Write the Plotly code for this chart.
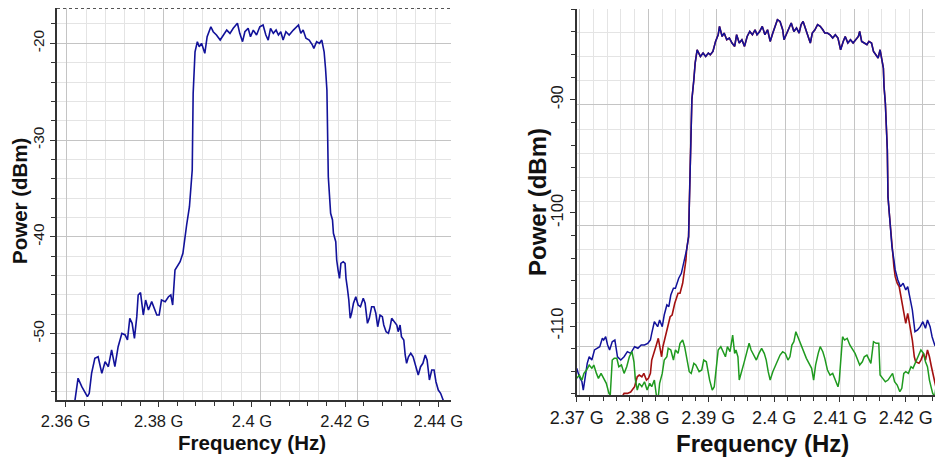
import plotly.graph_objects as go

# ---------------- data (frequency in GHz, power in dBm) ----------------
left_freq_ghz = [2.3620, 2.3627, 2.3635, 2.3642, 2.3647, 2.3651, 2.3656, 2.3663, 2.3670, 2.3678,
                 2.3685, 2.3692, 2.3699, 2.3706, 2.3713, 2.3721, 2.3728, 2.3733, 2.3738, 2.3743,
                 2.3748, 2.3753, 2.3756, 2.3761, 2.3767, 2.3772, 2.3778, 2.3785, 2.3792, 2.3796,
                 2.3801, 2.3806, 2.3814, 2.3821, 2.3826, 2.3830, 2.3835, 2.3846, 2.3852, 2.3856,
                 2.3860, 2.3866, 2.3869, 2.3872, 2.3874, 2.3876, 2.3878, 2.3883, 2.3887, 2.3892,
                 2.3899, 2.3904, 2.3912, 2.3917, 2.3924, 2.3932, 2.3939, 2.3946, 2.3953, 2.3960,
                 2.3969, 2.3974, 2.3980, 2.3985, 2.3992, 2.3997, 2.4003, 2.4010, 2.4017, 2.4024,
                 2.4030, 2.4035, 2.4040, 2.4046, 2.4052, 2.4057, 2.4062, 2.4067, 2.4073, 2.4080,
                 2.4089, 2.4096, 2.4100, 2.4105, 2.4110, 2.4116, 2.4123, 2.4130, 2.4133, 2.4139,
                 2.4145, 2.4150, 2.4155, 2.4158, 2.4161, 2.4164, 2.4168, 2.4169, 2.4173, 2.4175,
                 2.4180, 2.4182, 2.4185, 2.4188, 2.4191, 2.4196, 2.4200, 2.4202, 2.4205, 2.4208,
                 2.4211, 2.4214, 2.4218, 2.4223, 2.4228, 2.4233, 2.4239, 2.4243, 2.4248, 2.4252,
                 2.4257, 2.4262, 2.4266, 2.4270, 2.4275, 2.4280, 2.4283, 2.4288, 2.4293, 2.4296,
                 2.4300, 2.4305, 2.4311, 2.4314, 2.4318, 2.4321, 2.4326, 2.4329, 2.4332, 2.4336,
                 2.4341, 2.4346, 2.4352, 2.4357, 2.4362, 2.4367, 2.4372, 2.4376, 2.4381, 2.4386,
                 2.4391, 2.4395, 2.4400, 2.4405, 2.4409, 2.4412]
left_power_dbm = [-57.0, -54.6, -55.47, -55.99, -56.5, -56.16, -54.1, -52.54, -52.38, -54.1,
                  -52.89, -53.41, -51.68, -53.41, -51.34, -49.96, -50.13, -50.65, -48.41, -48.93,
                  -50.48, -48.24, -46.0, -45.76, -48.07, -46.52, -47.55, -46.69, -47.55, -48.07,
                  -48.07, -46.52, -46.69, -46.18, -46.0, -47.04, -43.42, -42.56, -41.69, -39.98,
                  -38.77, -36.88, -34.81, -33.09, -25.17, -21.9, -20.87, -19.83, -20.35, -20.0,
                  -21.03, -19.32, -18.29, -18.8, -19.14, -19.66, -19.14, -18.63, -18.97, -18.45,
                  -17.93, -18.97, -19.83, -18.8, -18.45, -19.32, -18.63, -19.14, -18.29, -18.11,
                  -19.14, -19.66, -18.45, -18.97, -18.63, -19.14, -18.8, -19.66, -18.8, -19.14,
                  -18.63, -18.29, -18.11, -18.97, -18.63, -19.48, -19.66, -20.18, -20.52, -19.83,
                  -20.0, -19.66, -20.87, -22.58, -24.82, -33.78, -36.19, -37.56, -38.25, -39.63,
                  -40.5, -42.39, -43.42, -44.28, -42.73, -42.56, -42.73, -44.28, -45.31, -46.52,
                  -48.41, -47.89, -46.86, -46.18, -47.04, -47.21, -46.34, -46.86, -48.93, -48.41,
                  -47.21, -47.21, -47.89, -49.28, -48.07, -48.24, -49.1, -49.79, -49.96, -49.44,
                  -48.41, -48.76, -49.1, -49.79, -49.1, -50.31, -50.65, -52.2, -53.06, -52.38,
                  -52.02, -52.38, -53.41, -54.27, -53.41, -53.06, -52.2, -52.72, -54.78, -53.75,
                  -53.75, -54.96, -55.82, -56.16, -56.67, -57.05]

# right chart: blue/red share the in-band segment
blue_left_freq = [2.3700, 2.3704, 2.3708, 2.3710, 2.3713, 2.3716, 2.3719, 2.3723, 2.3727, 2.3731,
                  2.3735, 2.3739, 2.3741, 2.3744, 2.3747, 2.3750, 2.3754, 2.3758, 2.3762, 2.3767,
                  2.3772, 2.3777, 2.3782, 2.3788, 2.3793, 2.3798, 2.3803, 2.3808, 2.3812, 2.3814,
                  2.3818, 2.3823, 2.3826, 2.3830, 2.3833, 2.3837, 2.3840, 2.3843, 2.3847, 2.3850,
                  2.3855, 2.3859, 2.3862, 2.3865]
blue_left_power = [-113.74, -114.49, -114.93, -115.66, -114.49, -113.3, -112.72, -113.01, -112.12, -111.97,
                   -111.83, -111.09, -111.24, -110.95, -111.68, -112.12, -111.39, -111.24, -112.72, -113.01,
                   -112.72, -112.27, -112.42, -111.83, -111.97, -111.68, -111.68, -111.53, -111.24, -110.65,
                   -109.62, -110.06, -109.47, -110.06, -109.03, -108.14, -108.29, -107.26, -106.66, -106.66,
                   -105.78, -105.34, -104.6, -103.72]

band_freq = [2.3867, 2.3870, 2.3871, 2.3873, 2.3875, 2.3878, 2.3880, 2.3883, 2.3886, 2.3888,
             2.3892, 2.3896, 2.3900, 2.3903, 2.3907, 2.3911, 2.3915, 2.3917, 2.3921, 2.3924,
             2.3928, 2.3932, 2.3936, 2.3940, 2.3943, 2.3947, 2.3951, 2.3955, 2.3959, 2.3963,
             2.3967, 2.3971, 2.3974, 2.3978, 2.3982, 2.3986, 2.3990, 2.3994, 2.3998, 2.4002,
             2.4005, 2.4009, 2.4013, 2.4015, 2.4019, 2.4022, 2.4026, 2.4030, 2.4034, 2.4038,
             2.4041, 2.4044, 2.4048, 2.4051, 2.4055, 2.4058, 2.4062, 2.4066, 2.4070, 2.4074,
             2.4077, 2.4081, 2.4085, 2.4089, 2.4093, 2.4097, 2.4101, 2.4105, 2.4108, 2.4112,
             2.4116, 2.4120, 2.4124, 2.4128, 2.4130, 2.4133, 2.4137, 2.4141, 2.4144, 2.4148,
             2.4151, 2.4155, 2.4158, 2.4161, 2.4164, 2.4166, 2.4167, 2.4169, 2.4172, 2.4173,
             2.4175, 2.4177, 2.4179]
band_power = [-103.27, -102.1, -99.44, -95.16, -90.0, -88.23, -86.75, -85.58, -85.87, -86.17,
              -85.87, -86.17, -85.87, -86.02, -85.73, -84.84, -84.25, -83.51, -84.4, -84.1,
              -84.69, -84.54, -84.98, -85.28, -84.25, -84.98, -84.69, -85.28, -84.4, -83.96,
              -84.25, -83.81, -84.25, -83.96, -83.51, -84.25, -83.81, -84.84, -84.1, -83.51,
              -82.92, -83.07, -83.81, -84.69, -84.1, -83.81, -83.21, -83.96, -83.65, -84.1,
              -83.36, -83.07, -83.81, -84.4, -84.98, -84.1, -83.81, -83.36, -83.51, -83.81,
              -84.1, -84.1, -84.25, -84.54, -84.25, -84.54, -85.58, -84.84, -84.4, -84.98,
              -84.69, -84.98, -84.69, -84.4, -83.96, -84.84, -84.98, -85.13, -84.84, -84.98,
              -85.73, -86.02, -86.31, -85.58, -86.46, -87.19, -88.82, -90.29, -94.42, -98.56,
              -100.03, -101.5, -102.98]

blue_right_freq = [2.4182, 2.4184, 2.4188, 2.4192, 2.4196, 2.4200, 2.4203, 2.4207, 2.4210, 2.4214,
                   2.4218, 2.4222, 2.4226, 2.4230, 2.4233, 2.4237, 2.4240, 2.4244, 2.4247, 2.4250,
                   2.4254, 2.4258, 2.4261, 2.4264, 2.4266]
blue_right_power = [-104.16, -105.04, -105.93, -106.52, -106.22, -106.81, -106.52, -107.7, -108.58, -110.5,
                    -110.35, -110.06, -109.62, -110.2, -109.47, -110.06, -110.95, -111.68, -111.53, -111.83,
                    -112.12, -111.83, -112.27, -111.68, -111.97]

red_left_freq = [2.3766, 2.3772, 2.3777, 2.3782, 2.3788, 2.3792, 2.3795, 2.3799, 2.3802, 2.3806,
                 2.3809, 2.3812, 2.3814, 2.3818, 2.3821, 2.3824, 2.3826, 2.3829, 2.3831, 2.3835,
                 2.3838, 2.3842, 2.3845, 2.3849, 2.3854, 2.3857, 2.3861, 2.3864, 2.3866]
red_left_power = [-116.55, -115.96, -115.96, -115.84, -115.37, -114.49, -114.34, -114.49, -114.19, -114.78,
                  -114.63, -114.19, -113.01, -112.12, -111.68, -111.09, -111.83, -112.72, -111.83, -110.8,
                  -110.06, -109.18, -109.03, -107.99, -107.11, -107.11, -106.22, -105.04, -104.16]

red_right_freq = [2.4182, 2.4184, 2.4187, 2.4190, 2.4192, 2.4195, 2.4197, 2.4200, 2.4203, 2.4207,
                  2.4210, 2.4213, 2.4215, 2.4220, 2.4223, 2.4227, 2.4230, 2.4233, 2.4236, 2.4239,
                  2.4241, 2.4244, 2.4246, 2.4249, 2.4253, 2.4258, 2.4262, 2.4266]
red_right_power = [-104.75, -105.64, -106.22, -106.52, -107.11, -107.99, -108.88, -109.76, -108.88, -110.06,
                   -111.24, -112.72, -113.16, -113.3, -113.01, -112.42, -113.01, -112.12, -112.72, -113.6,
                   -114.19, -114.78, -115.66, -116.26, -116.55, -116.1, -115.96, -115.66]

green_freq = [2.3700, 2.3704, 2.3708, 2.3711, 2.3715, 2.3719, 2.3723, 2.3726, 2.3730, 2.3733,
              2.3737, 2.3741, 2.3745, 2.3749, 2.3751, 2.3754, 2.3757, 2.3761, 2.3764, 2.3768,
              2.3772, 2.3776, 2.3780, 2.3784, 2.3787, 2.3789, 2.3792, 2.3795, 2.3799, 2.3803,
              2.3807, 2.3811, 2.3814, 2.3818, 2.3821, 2.3824, 2.3826, 2.3830, 2.3833, 2.3837,
              2.3839, 2.3843, 2.3847, 2.3850, 2.3854, 2.3857, 2.3861, 2.3864, 2.3867, 2.3871,
              2.3874, 2.3878, 2.3881, 2.3886, 2.3890, 2.3893, 2.3897, 2.3902, 2.3906, 2.3909,
              2.3912, 2.3915, 2.3919, 2.3923, 2.3926, 2.3929, 2.3933, 2.3937, 2.3940, 2.3942,
              2.3945, 2.3947, 2.3950, 2.3954, 2.3958, 2.3962, 2.3965, 2.3969, 2.3973, 2.3977,
              2.3981, 2.3985, 2.3988, 2.3991, 2.3994, 2.3998, 2.4002, 2.4005, 2.4009, 2.4013,
              2.4017, 2.4021, 2.4024, 2.4027, 2.4030, 2.4033, 2.4038, 2.4041, 2.4045, 2.4049,
              2.4053, 2.4057, 2.4060, 2.4063, 2.4067, 2.4070, 2.4074, 2.4077, 2.4081, 2.4085,
              2.4089, 2.4093, 2.4097, 2.4099, 2.4102, 2.4104, 2.4107, 2.4111, 2.4115, 2.4118,
              2.4123, 2.4127, 2.4130, 2.4134, 2.4137, 2.4141, 2.4144, 2.4147, 2.4151, 2.4155,
              2.4159, 2.4161, 2.4165, 2.4169, 2.4173, 2.4177, 2.4180, 2.4183, 2.4187, 2.4191,
              2.4194, 2.4197, 2.4200, 2.4204, 2.4208, 2.4211, 2.4215, 2.4220, 2.4223, 2.4227,
              2.4230, 2.4233, 2.4236, 2.4239, 2.4241, 2.4244, 2.4247, 2.4250, 2.4254, 2.4258,
              2.4261, 2.4264, 2.4266]
green_power = [-114.63, -114.34, -114.78, -114.19, -113.89, -113.45, -113.74, -113.45, -114.19, -114.63,
               -114.19, -114.63, -115.07, -115.96, -116.1, -113.01, -112.86, -112.86, -113.6, -113.45,
               -114.19, -113.6, -112.72, -112.27, -113.16, -114.63, -115.66, -115.07, -115.37, -114.93,
               -115.66, -115.07, -115.37, -114.78, -116.1, -116.26, -115.07, -114.19, -113.01, -112.72,
               -111.97, -112.12, -113.01, -112.12, -112.42, -111.53, -111.24, -111.83, -112.72, -114.04,
               -114.19, -113.3, -113.45, -114.04, -113.89, -113.01, -113.16, -114.78, -115.66, -115.37,
               -113.74, -112.12, -111.83, -112.27, -112.72, -111.83, -112.27, -110.8, -112.42, -112.12,
               -112.72, -114.78, -114.04, -113.3, -112.42, -111.53, -112.12, -112.57, -113.01, -112.42,
               -111.97, -112.42, -113.01, -114.04, -114.78, -114.04, -113.45, -113.01, -112.57, -112.27,
               -112.42, -113.01, -112.72, -111.68, -111.39, -110.5, -111.24, -111.83, -112.42, -112.86,
               -113.3, -113.74, -114.78, -113.45, -112.42, -111.83, -112.27, -112.86, -113.89, -114.34,
               -114.19, -114.78, -115.37, -114.78, -112.42, -110.95, -111.24, -111.09, -111.68, -111.97,
               -112.42, -113.01, -113.45, -113.16, -112.72, -112.57, -113.01, -113.3, -111.39, -111.53,
               -111.53, -114.34, -114.63, -114.93, -114.78, -114.49, -114.19, -114.93, -115.22, -115.81,
               -115.51, -114.19, -114.04, -114.19, -113.6, -113.74, -113.16, -112.42, -112.12, -112.42,
               -113.16, -113.6, -114.78, -115.51, -115.96, -116.26, -114.78, -113.6, -112.72, -111.83,
               -112.72, -112.42, -113.01]

left_x_ticks = [2.36, 2.38, 2.40, 2.42, 2.44]
left_x_labels = ["2.36 G", "2.38 G", "2.4 G", "2.42 G", "2.44 G"]
left_y_ticks = [-50, -40, -30, -20]
left_y_labels = ["-50", "-40", "-30", "-20"]
right_x_ticks = [2.37, 2.38, 2.39, 2.40, 2.41, 2.42]
right_x_labels = ["2.37 G", "2.38 G", "2.39 G", "2.4 G", "2.41 G", "2.42 G"]
right_y_ticks = [-110, -100, -90]
right_y_labels = ["-110", "-100", "-90"]

x_title = "Frequency (Hz)"
y_title = "Power (dBm)"

# ---------------- styling ----------------
# the page places the figure 8 px from the top-left corner of the window
OFF = 8
W, H = 943 - OFF, 457 - OFF
FONT = "Liberation Sans, Arial, sans-serif"
BLUE = "#12129a"
RED = "#a31010"
GREEN = "#1f9a1f"
AXIS = "#333333"
GRID_MAJOR = "#c4c4c4"
GRID_MINOR = "#e4e4e4"
LW = 1.6

def px_x(p):
    return min(max((p - OFF) / W, 0.0), 1.0)

def px_y(p):
    return min(max((H - (p - OFF)) / H, 0.0), 1.0)

fig = go.Figure()
# empty traces that register the grid-only overlay axes (the source draws its grid
# on a slightly different scale than its tick labels)
fig.add_trace(go.Scatter(x=[], y=[], xaxis="x3", yaxis="y", showlegend=False, hoverinfo="skip"))
fig.add_trace(go.Scatter(x=[], y=[], xaxis="x4", yaxis="y2", showlegend=False, hoverinfo="skip"))
fig.add_trace(go.Scatter(x=[], y=[], xaxis="x2", yaxis="y3", showlegend=False, hoverinfo="skip"))

fig.add_trace(go.Scatter(x=left_freq_ghz, y=left_power_dbm, mode="lines",
                         line=dict(color=BLUE, width=LW), xaxis="x", yaxis="y",
                         showlegend=False, hoverinfo="skip"))
fig.add_trace(go.Scatter(x=red_left_freq + band_freq + red_right_freq,
                         y=red_left_power + band_power + red_right_power, mode="lines",
                         line=dict(color=RED, width=LW), xaxis="x2", yaxis="y2",
                         showlegend=False, hoverinfo="skip"))
fig.add_trace(go.Scatter(x=blue_left_freq + band_freq + blue_right_freq,
                         y=blue_left_power + band_power + blue_right_power, mode="lines",
                         line=dict(color=BLUE, width=LW - 0.1), xaxis="x2", yaxis="y2",
                         showlegend=False, hoverinfo="skip"))
fig.add_trace(go.Scatter(x=green_freq, y=green_power, mode="lines",
                         line=dict(color=GREEN, width=LW - 0.1), xaxis="x2", yaxis="y2",
                         showlegend=False, hoverinfo="skip"))


def label_axis(domain, rng, tickvals, ticktext, minor_tick0, minor_dtick, anchor, fontsize,
               angle=0, grid=True):
    return dict(domain=domain, range=rng, anchor=anchor, automargin=False,
                tickmode="array", tickvals=tickvals, ticktext=ticktext,
                tickangle=angle, tickfont=dict(family=FONT, size=fontsize, color="#1a1a1a"),
                ticks="outside", ticklen=5, tickwidth=1, tickcolor=AXIS,
                showline=True, linecolor=AXIS, linewidth=2,
                showgrid=grid, gridcolor=GRID_MAJOR, gridwidth=1, zeroline=False,
                minor=dict(tickmode="linear", tick0=minor_tick0, dtick=minor_dtick,
                           ticks="outside", ticklen=4, tickwidth=1, tickcolor=AXIS,
                           showgrid=grid, gridcolor=GRID_MINOR, gridwidth=1),
                fixedrange=True)


def grid_axis(over, rng, tick0, dtick, minor_dtick, anchor):
    return dict(overlaying=over, range=rng, anchor=anchor, automargin=False,
                tickmode="linear", tick0=tick0, dtick=dtick,
                showticklabels=False, ticks="", showline=False, zeroline=False,
                showgrid=True, gridcolor=GRID_MAJOR, gridwidth=1,
                minor=dict(tickmode="linear", tick0=tick0, dtick=minor_dtick, ticks="",
                           showgrid=True, gridcolor=GRID_MINOR, gridwidth=1),
                fixedrange=True)


# plot-area edges in window pixels
L_x0, L_x1, L_y0, L_y1 = 57, 451, 400, 8
R_x0, R_x1, R_y0, R_y1 = 576.7, 943, 395, 9.3

fig.update_layout(
    width=W, height=H, margin=dict(l=0, r=0, t=0, b=0),
    paper_bgcolor="white", plot_bgcolor="white",
    font=dict(family=FONT, color="#111111"),
    xaxis=label_axis([px_x(L_x0), px_x(L_x1)], [2.35818, 2.44273], left_x_ticks, left_x_labels,
                     2.36, 0.004, "y", 16.5, grid=False),
    yaxis=label_axis([px_y(L_y0), px_y(L_y1)], [-56.85, -16.35], left_y_ticks, left_y_labels,
                     -20, 2, "x", 15.5, angle=-90),
    xaxis2=label_axis([px_x(R_x0), 1.0], [2.37, 2.42566], right_x_ticks, right_x_labels,
                      2.37, 0.002, "y2", 18, grid=False),
    yaxis2=label_axis([px_y(R_y0), px_y(R_y1)], [-116.1, -82.0], right_y_ticks, right_y_labels,
                      -90, 2, "x2", 16.5, angle=-90, grid=False),
    xaxis3=grid_axis("x", [2.3580, 2.43924], 2.36, 0.02, 0.004, "y"),
    xaxis4=grid_axis("x2", [2.36957, 2.42292], 2.37, 0.01, 0.002, "y2"),
    yaxis3=grid_axis("y2", [-114.0, -82.09], -90, 10, 2, "x2"),
    shapes=[dict(type="line", xref="paper", yref="paper",
                 x0=px_x(L_x0), x1=px_x(L_x1), y0=px_y(L_y1 + 0.5), y1=px_y(L_y1 + 0.5),
                 line=dict(color="#555555", width=1, dash="dot"))],
    annotations=[
        dict(text=f"<b>{y_title}</b>", xref="paper", yref="paper", x=px_x(19), y=px_y(201),
             textangle=-90, showarrow=False, font=dict(family=FONT, size=20.5, color="#111111"),
             xanchor="center", yanchor="middle"),
        dict(text=f"<b>{x_title}</b>", xref="paper", yref="paper", x=px_x(252), y=px_y(442),
             showarrow=False, font=dict(family=FONT, size=20.5, color="#111111"),
             xanchor="center", yanchor="middle"),
        dict(text=f"<b>{y_title}</b>", xref="paper", yref="paper", x=px_x(537), y=px_y(202),
             textangle=-90, showarrow=False, font=dict(family=FONT, size=24, color="#111111"),
             xanchor="center", yanchor="middle"),
        dict(text=f"<b>{x_title}</b>", xref="paper", yref="paper", x=px_x(762), y=px_y(443),
             showarrow=False, font=dict(family=FONT, size=24, color="#111111"),
             xanchor="center", yanchor="middle"),
    ],
)

fig.write_html("out.html")
